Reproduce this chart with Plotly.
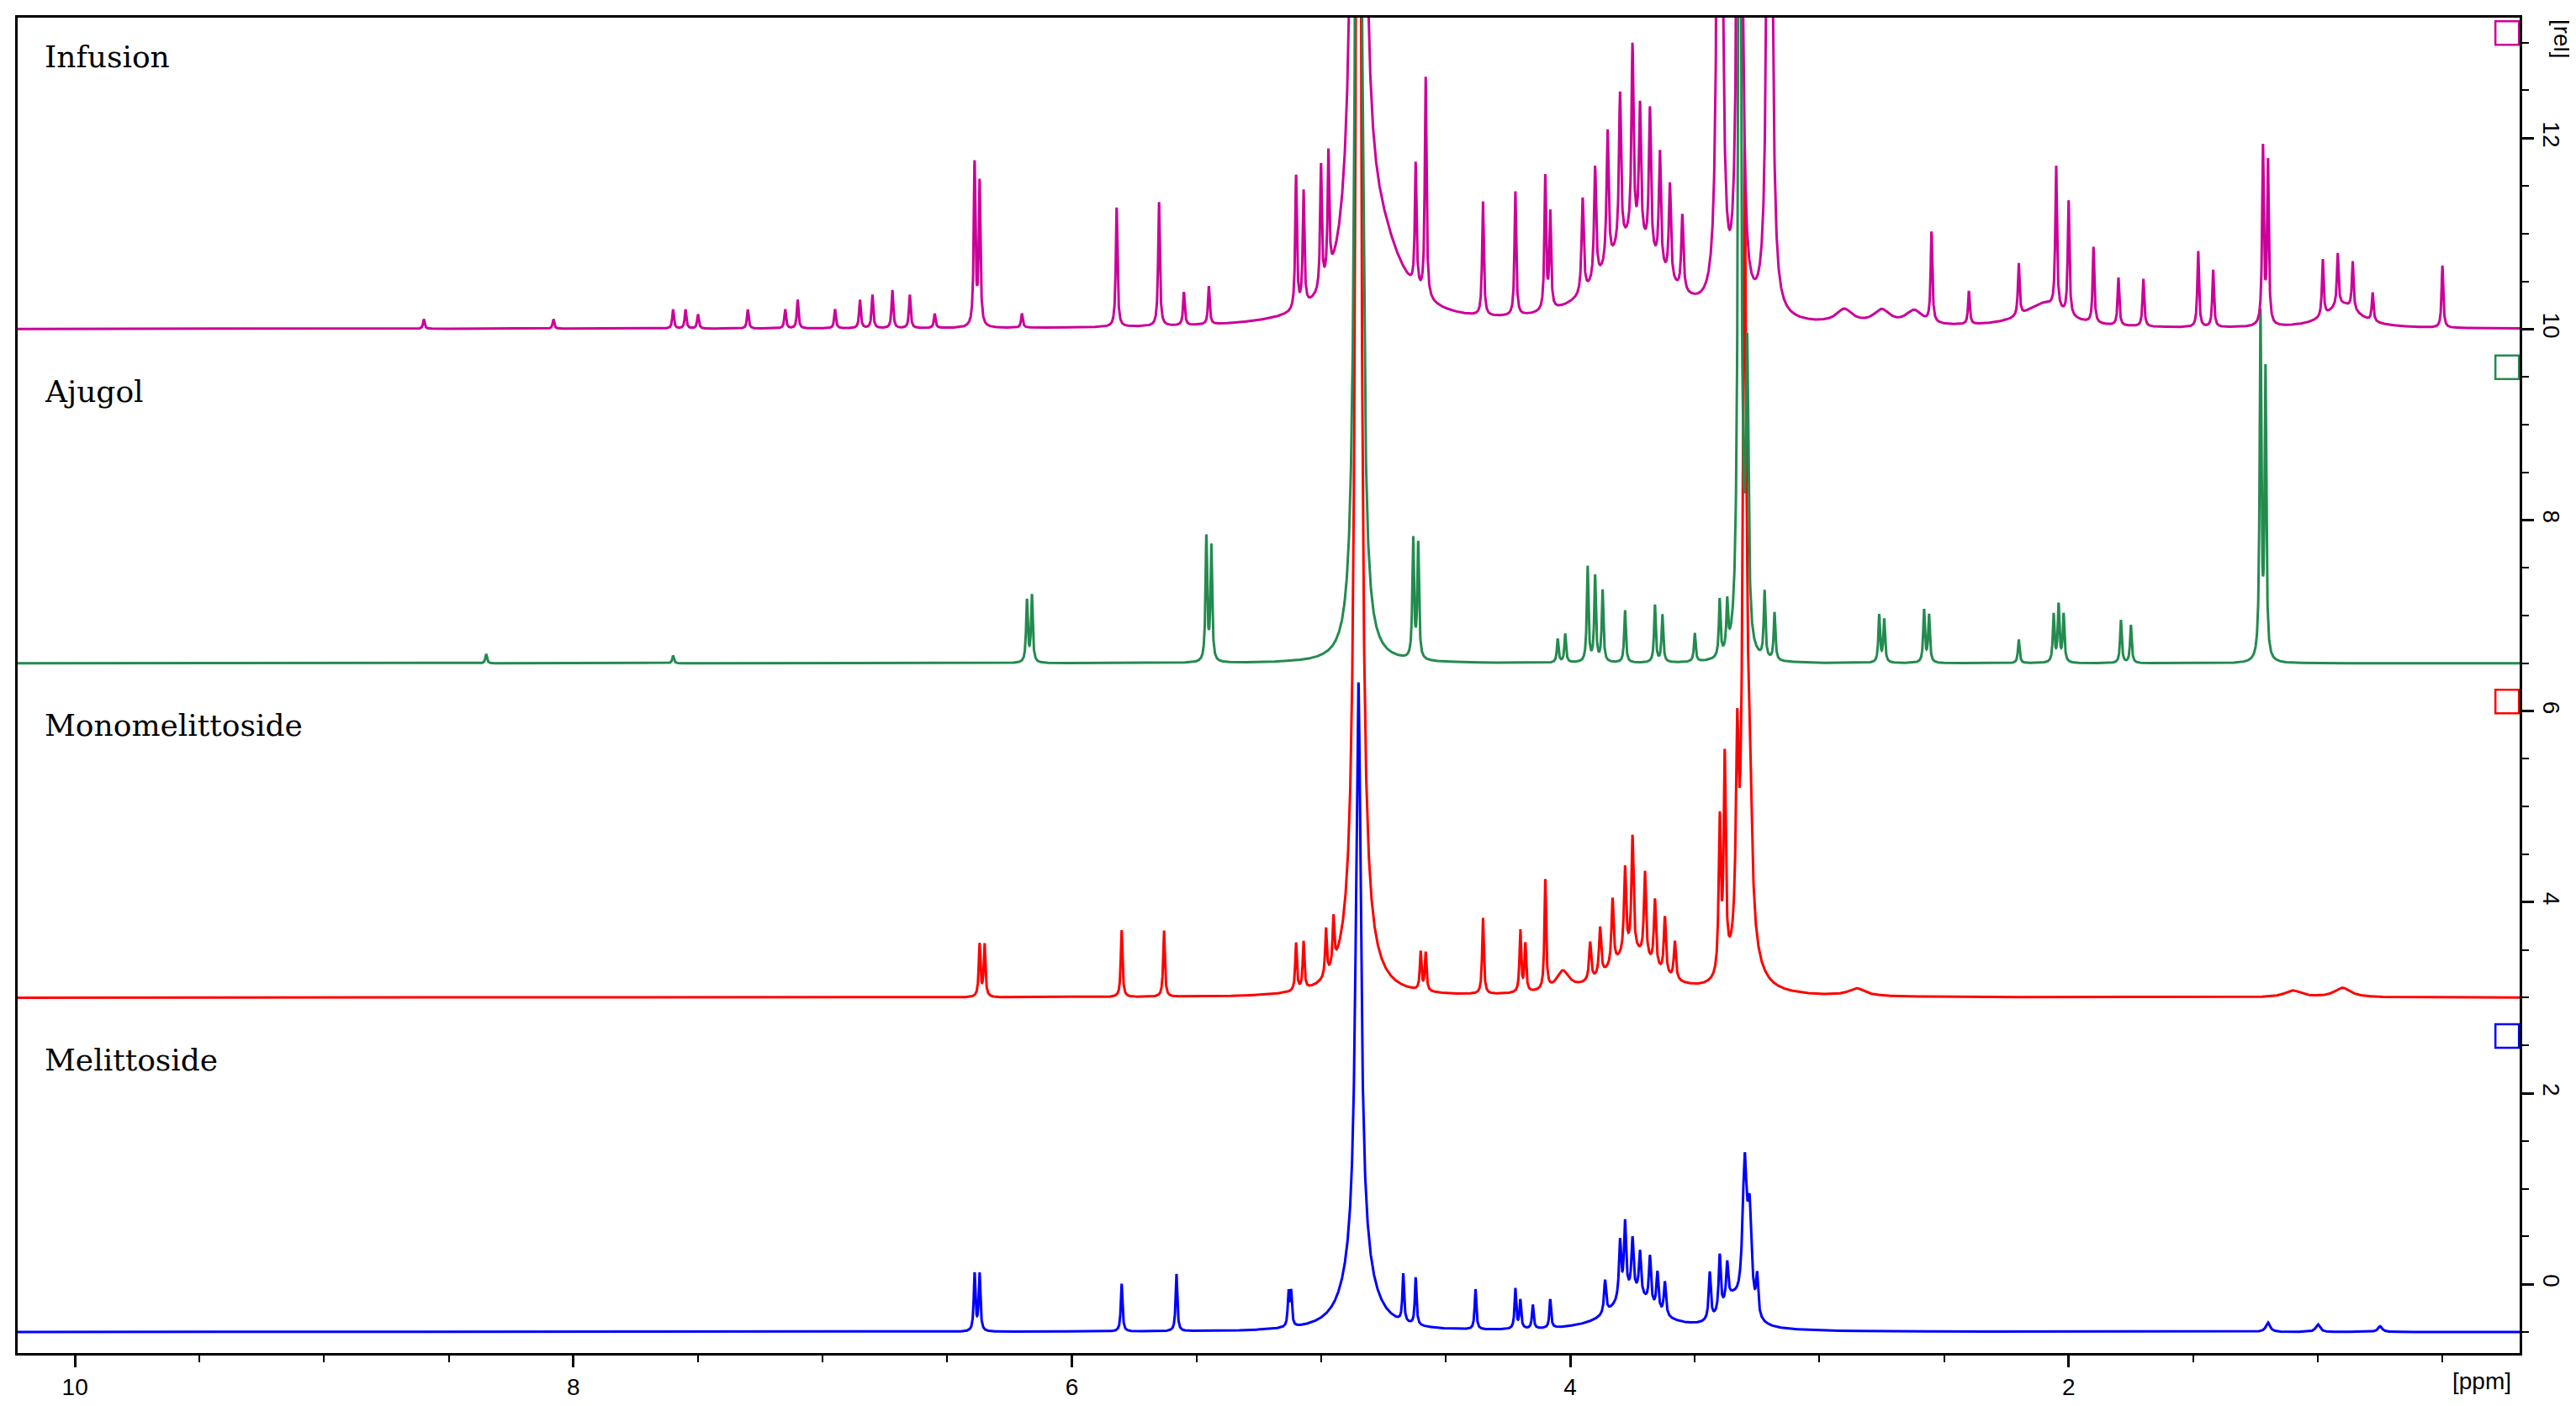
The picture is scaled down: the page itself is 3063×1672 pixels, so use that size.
import numpy as np
import plotly.graph_objects as go

names = ["Melittoside", "Monomelittoside", "Ajugol", "Infusion"]
colors = ["#0000FF", "#FF0000", "#238B4F", "#CC0099"]
offsets = [-0.5, 3.0, 6.5, 10.0]
marker_y = [2.6, 6.1, 9.6, 13.1]

# peak lists: (ppm, height, half-width ppm)
mel_ppm = [6.39, 6.37, 5.80, 5.58, 5.13, 5.12, 4.85, 4.85, 4.67, 4.62, 4.38, 4.22, 4.20, 4.15, 4.08,
           3.86, 3.80, 3.78, 3.75, 3.72, 3.68, 3.65, 3.62, 3.75, 3.44, 3.40, 3.37, 3.30, 3.28, 3.25, 3.35,
           1.2, 1.0, 0.75]
mel_h = [0.6, 0.6, 0.5, 0.6, 0.35, 0.35, 6.0, 0.8, 0.5, 0.5, 0.42, 0.42, 0.3, 0.25, 0.3,
         0.35, 0.6, 0.75, 0.55, 0.45, 0.5, 0.4, 0.35, 0.4, 0.5, 0.6, 0.4, 1.5, 1.0, 0.4, 0.3,
         0.1, 0.08, 0.06]
mel_w = [0.004, 0.004, 0.004, 0.004, 0.004, 0.004, 0.012, 0.06, 0.004, 0.004, 0.004, 0.004, 0.004, 0.004, 0.004,
         0.005, 0.005, 0.005, 0.005, 0.005, 0.005, 0.005, 0.005, 0.1, 0.005, 0.005, 0.005, 0.01, 0.01, 0.005, 0.05,
         0.01, 0.01, 0.01]

mono_ppm = [6.37, 6.35, 5.80, 5.63, 5.10, 5.07, 4.98, 4.95, 4.85, 4.85, 4.60, 4.58, 4.35, 4.20, 4.18, 4.10, 4.03,
            3.92, 3.88, 3.83, 3.78, 3.75, 3.70, 3.66, 3.62, 3.58, 3.75, 3.40, 3.38, 3.33, 3.30, 3.28, 3.30,
            2.85, 1.1, 0.9]
mono_h = [0.55, 0.55, 0.7, 0.7, 0.5, 0.5, 0.5, 0.5, 20.0, 0.6, 0.4, 0.4, 0.8, 0.65, 0.5, 1.15, 0.2,
          0.4, 0.5, 0.7, 0.9, 1.2, 0.9, 0.7, 0.6, 0.4, 0.45, 1.6, 2.2, 2.0, 8.0, 1.5, 0.5,
          0.08, 0.07, 0.1]
mono_w = [0.004, 0.004, 0.004, 0.004, 0.004, 0.004, 0.004, 0.004, 0.01, 0.06, 0.004, 0.004, 0.004, 0.004, 0.004, 0.004, 0.03,
          0.005, 0.005, 0.005, 0.005, 0.005, 0.005, 0.005, 0.005, 0.005, 0.12, 0.005, 0.005, 0.006, 0.008, 0.01, 0.05,
          0.04, 0.04, 0.04]

aju_ppm = [8.35, 7.6, 6.18, 6.16, 5.46, 5.44, 4.85, 4.83, 4.63, 4.61, 4.05, 4.02, 3.93, 3.90, 3.87, 3.78, 3.66, 3.63,
           3.50, 3.40, 3.37, 3.32, 3.29, 3.22, 3.18, 2.76, 2.74, 2.58, 2.56, 2.20, 2.06, 2.04, 2.02, 1.79, 1.75,
           1.23, 1.21]
aju_h = [0.1, 0.08, 0.65, 0.7, 1.3, 1.2, 20.0, 1.5, 1.25, 1.2, 0.25, 0.3, 1.0, 0.9, 0.75, 0.55, 0.6, 0.5,
         0.3, 0.6, 0.5, 12.0, 3.0, 0.7, 0.5, 0.5, 0.45, 0.55, 0.5, 0.25, 0.5, 0.6, 0.5, 0.45, 0.4,
         3.6, 3.0]
aju_w = [0.004] * 6 + [0.01] + [0.004] * 14 + [0.006, 0.006] + [0.004] * 12 + [0.004, 0.004]

inf_ppm = [8.6, 8.08, 7.6, 7.55, 7.5, 7.3, 7.15, 7.1, 6.95, 6.85, 6.8, 6.72, 6.65, 6.55,
           6.39, 6.37, 6.2, 5.82, 5.65, 5.55, 5.45, 5.10, 5.07, 5.00, 4.97,
           4.85, 4.78, 4.62, 4.58, 4.35, 4.22, 4.10, 4.08,
           3.95, 3.90, 3.85, 3.80, 3.75, 3.72, 3.68, 3.64, 3.60, 3.55, 3.75,
           3.40, 3.32, 3.20, 2.9, 2.75, 2.62, 2.55, 2.4, 2.2, 2.05, 2.00, 1.9, 1.8, 1.7,
           1.48, 1.42, 1.22, 1.20, 0.98, 0.92, 0.86, 0.78, 0.5, 2.1, 0.9]
inf_h = [0.1, 0.1, 0.2, 0.2, 0.15, 0.2, 0.2, 0.3, 0.2, 0.3, 0.35, 0.4, 0.35, 0.15,
         1.7, 1.5, 0.15, 1.25, 1.3, 0.35, 0.4, 1.4, 1.2, 1.3, 1.3,
         30.0, 0.9, 1.3, 2.3, 1.2, 1.3, 1.4, 1.0,
         1.0, 1.2, 1.4, 1.6, 2.0, 1.4, 1.5, 1.2, 1.0, 0.8, 0.9,
         20.0, 20.0, 20.0, 0.15, 0.15, 0.15, 0.95, 0.35, 0.55, 1.5, 1.2, 0.8, 0.5, 0.5,
         0.8, 0.6, 1.85, 1.7, 0.6, 0.55, 0.5, 0.3, 0.65, 0.25, 0.25]
inf_w = [0.004] * 25 + [0.012, 0.12] + [0.004] * 6 + [0.005] * 10 + [0.15] + [0.006] * 3 + [0.04, 0.04, 0.04] + \
        [0.004] * 8 + [0.004] * 4 + [0.004] * 5 + [0.1, 0.08]

peaks = [(mel_ppm, mel_h, mel_w), (mono_ppm, mono_h, mono_w), (aju_ppm, aju_h, aju_w), (inf_ppm, inf_h, inf_w)]

x = np.linspace(10.25, 0.15, 14000)
fig = go.Figure()
for name, col, off, my, (pp, hh, ww) in zip(names, colors, offsets, marker_y, peaks):
    y = np.full_like(x, off)
    for p, h, w in zip(pp, hh, ww):
        y += h * w**2 / ((x - p)**2 + w**2)
    fig.add_trace(go.Scatter(x=x, y=y, mode="lines", line=dict(color=col, width=3), showlegend=False))
    fig.add_trace(go.Scatter(x=[0.24], y=[my], mode="markers", cliponaxis=False, showlegend=False,
                             marker=dict(symbol="square-open", size=28, color=col, line=dict(width=2.5))))
    fig.add_annotation(x=10.13, y=off + 2.85, text=name, showarrow=False, xanchor="left", yanchor="middle",
                       font=dict(family="DejaVu Serif", size=36, color="black"))

fig.add_annotation(xref="paper", yref="paper", x=0.985, y=-0.01, text="[ppm]", showarrow=False,
                   xanchor="center", yanchor="top", font=dict(family="Liberation Sans", size=28, color="black"))
fig.add_annotation(xref="paper", yref="paper", x=1.017, y=1.0, text="[rel]", showarrow=False, textangle=90,
                   xanchor="center", yanchor="top", font=dict(family="Liberation Sans", size=28, color="black"))

axis_common = dict(showgrid=False, zeroline=False, showline=True, linecolor="black", linewidth=2.5, mirror=True,
                   ticks="outside", ticklen=14, tickwidth=2.5, tickcolor="black",
                   tickfont=dict(family="Liberation Sans", size=28, color="black"))
fig.update_xaxes(range=[10.23, 0.19], tickvals=[10, 8, 6, 4, 2], minor=dict(dtick=0.5, ticks="outside", ticklen=8, tickwidth=2),
                 **axis_common)
fig.update_yaxes(range=[-0.72, 13.26], side="right", tickvals=[0, 2, 4, 6, 8, 10, 12], tickangle=90,
                 minor=dict(dtick=0.5, ticks="outside", ticklen=8, tickwidth=2), **axis_common)
fig.update_layout(width=3063, height=1672, plot_bgcolor="white", paper_bgcolor="white",
                  margin=dict(l=10, r=75, t=10, b=71))
fig.write_html("out.html")
